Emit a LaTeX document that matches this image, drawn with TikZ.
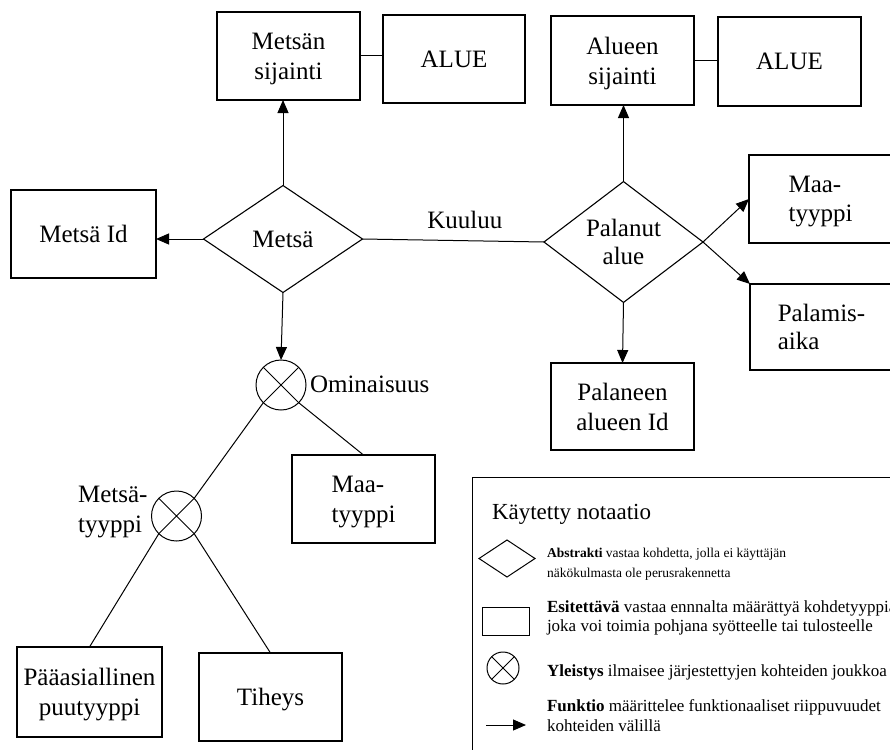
\documentclass[tikz,border=0pt]{standalone}
\usepackage{fontspec}
\setmainfont{Liberation Serif}
\usetikzlibrary{arrows.meta,shapes.geometric}

\begin{document}
\begin{tikzpicture}[x=1pt,y=-1pt,
  every node/.style={inner sep=0pt, outer sep=0pt},
  line/.style={line width=1pt},
  fn/.style={line width=1pt, -{Triangle[length=13pt,width=11pt]}},
  bigfont/.style={font=\fontsize{25}{30}\selectfont},
  box/.style={draw, line width=1.1pt, rectangle, align=center, bigfont, text depth=0pt},
  abst/.style={draw, line width=1.1pt, diamond, align=center, bigfont, text depth=0pt,
               minimum width=159pt, minimum height=107pt},
  gen/.style={draw, circle, line width=1pt, minimum size=50pt},
  lbl/.style={bigfont, align=left},
  legtxt/.style={font=\fontsize{17}{19.5}\selectfont, align=left, anchor=base west},
]
\fill[white] (0,0) rectangle (890,749);
\useasboundingbox (0,0) rectangle (890,749);
\clip (0,0) rectangle (890,749);

% --- entities ---
\node[box, minimum width=143pt, minimum height=88pt] (msij) at (288.5,56) {Metsän\\sijainti};
\node[box, minimum width=142pt, minimum height=88pt] (alue1) at (454,59) {ALUE};
\node[box, minimum width=143pt, minimum height=89pt] (asij) at (622.5,60.5) {Alueen\\sijainti};
\node[box, minimum width=143pt, minimum height=89pt] (alue2) at (789.5,61.5) {ALUE};
\node[box, minimum width=145pt, minimum height=88pt] (mid) at (83.5,234) {Metsä Id};
\node[abst] (metsa) at (283,239) {Metsä};
\node[abst, font=\fontsize{25}{28.5}\selectfont] (palanut) at (623.5,242) {Palanut\\alue};
\node[box, align=left, minimum width=143pt, minimum height=88pt,
      font=\fontsize{25}{28.5}\selectfont] (maaR) at (820.5,199) {Maa-\\tyyppi};
\node[box, align=left, minimum width=143pt, minimum height=86pt,
      font=\fontsize{25}{28.5}\selectfont] (palamis) at (821.5,327) {Palamis-\\aika};
\node[box, minimum width=143pt, minimum height=87pt] (palid) at (622.5,406.5) {Palaneen\\alueen Id};
\node[gen] (omin) at (281,385) {};
\node[gen] (mtyyp) at (176.5,516) {};
\node[box, align=left, minimum width=143pt, minimum height=88pt] (maaL) at (363.5,499) {Maa-\\tyyppi};
\node[box, minimum width=145pt, minimum height=90pt] (paa) at (89.5,692) {Pääasiallinen\\puutyyppi};
\node[box, minimum width=143pt, minimum height=88pt] (tih) at (270.5,697) {Tiheys};

% crosses inside the generalisation circles
\draw[line] (omin.45) -- (omin.225) (omin.135) -- (omin.-45);
\draw[line] (mtyyp.45) -- (mtyyp.225) (mtyyp.135) -- (mtyyp.-45);

% labels of the generalisations
\node[lbl, anchor=base west] (ominL) at ([xshift=4pt,yshift=-7pt]omin.east) {Ominaisuus};
\node[lbl, anchor=east] (mtyypL) at ([xshift=-4pt,yshift=4pt]mtyyp.west) {Metsä-\\tyyppi};

% --- connectors ---
\draw[fn] (metsa.north) -- (metsa.north |- msij.south);
\draw[fn] (metsa.west) -- (metsa.west -| mid.east);
\draw[fn] (metsa.south) -- (omin.north);
\draw[line] (metsa.east) -- node[bigfont, anchor=base, pos=0.564, yshift=12pt] (kuuluu) {Kuuluu} (palanut.west);
\draw[line] (msij.east) -- (msij.east -| alue1.west);
\draw[line] (asij.east) -- (asij.east -| alue2.west);
\draw[fn] (palanut.north) -- (palanut.north |- asij.south);
\draw[fn] (palanut.south) -- (palid.north);
\draw[fn] (palanut.east) -- (maaR.west);
\draw[fn] (palanut.east) -- (palamis.north west);
\draw[line] (omin.225) -- (mtyyp.45);
\draw[line] (omin.-45) -- (maaL.north);
\draw[line] (mtyyp.225) -- (paa.north);
\draw[line] (mtyyp.-45) -- (tih.north);

% --- legend ---
\draw[line] (472,477) rectangle (900,760);
\node[anchor=base west, font=\fontsize{23}{27}\selectfont] (legT) at (492,519) {Käytetty notaatio};
\node[draw, diamond, line width=1pt, minimum width=56pt, minimum height=37pt] (lgDia) at (507,558.5) {};
\node[legtxt, font=\fontsize{13.5}{19.5}\selectfont] (lgDiaT) at (547,577) {\textbf{Abstrakti} vastaa kohdetta, jolla ei käyttäjän\\näkökulmasta ole perusrakennetta};
\node[draw, line width=1pt, minimum width=47pt, minimum height=28pt] (lgBox) at (505.5,621) {};
\node[legtxt, font=\fontsize{17}{18.5}\selectfont] (lgBoxT) at (547,631) {\textbf{Esitettävä} vastaa ennnalta määrättyä kohdetyyppiä,\\joka voi toimia pohjana syötteelle tai tulosteelle};
\node[draw, circle, line width=1pt, minimum size=32pt] (lgCirc) at (503,668) {};
\draw[line] (lgCirc.45) -- (lgCirc.225) (lgCirc.135) -- (lgCirc.-45);
\node[legtxt] (lgCircT) at (547,676) {\textbf{Yleistys} ilmaisee järjestettyjen kohteiden joukkoa};
\coordinate (lgA) at (486,725);
\coordinate (lgB) at (526,725);
\draw[fn] (lgA) -- (lgB);
\node[legtxt, font=\fontsize{17}{20}\selectfont] (lgArrT) at (547,731) {\textbf{Funktio} määrittelee funktionaaliset riippuvuudet\\kohteiden välillä};
\end{tikzpicture}
\end{document}
